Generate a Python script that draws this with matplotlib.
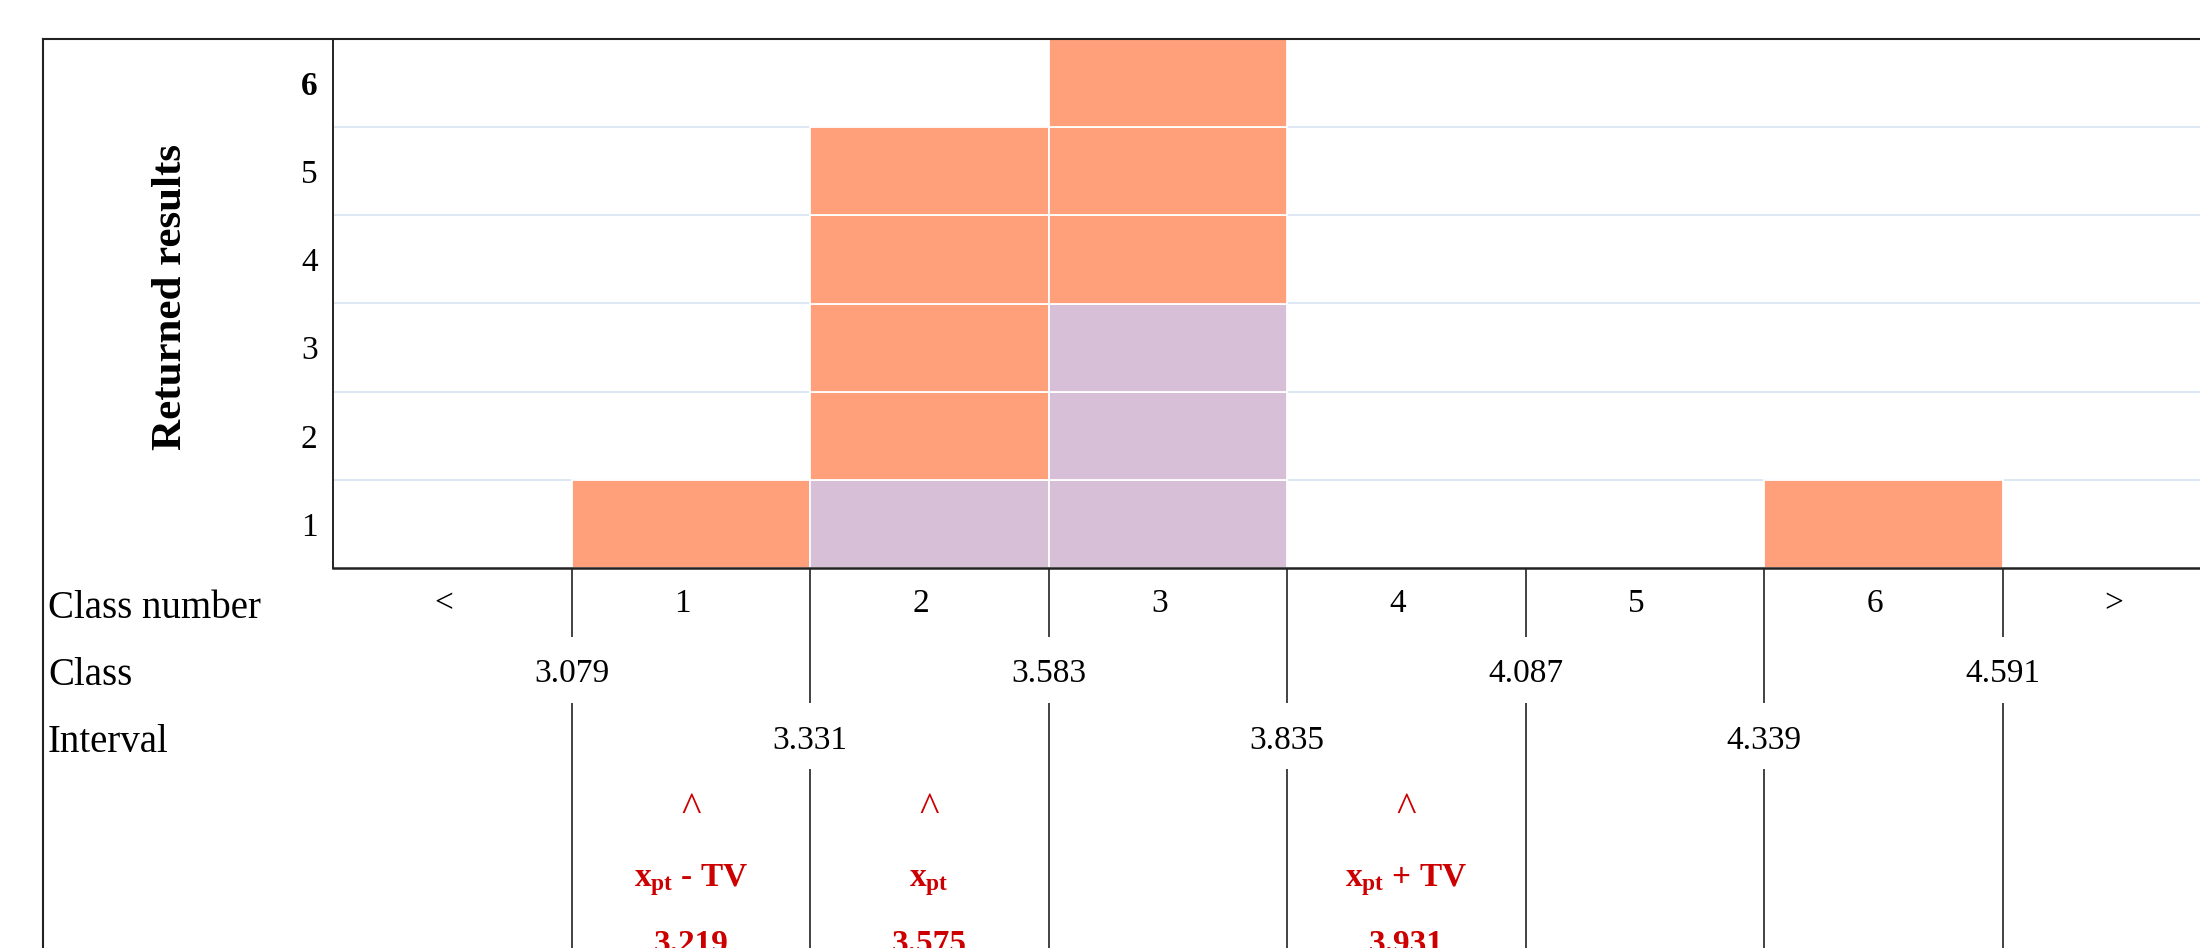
import matplotlib
matplotlib.use("Agg")
import matplotlib.pyplot as plt
from matplotlib import transforms
from matplotlib.lines import Line2D

plt.rcParams["font.family"] = ["Liberation Serif", "DejaVu Serif"]
plt.rcParams["mathtext.fontset"] = "custom"
plt.rcParams["mathtext.rm"] = "Liberation Serif"
plt.rcParams["mathtext.bf"] = "Liberation Serif:bold"
plt.rcParams["mathtext.it"] = "Liberation Serif:italic"

# ── données ──────────────────────────────────────────────────────────────────
CLASS_LABELS = ["<", "1", "2", "3", "4", "5", "6", ">"]
PURPLE_COUNTS = [0, 0, 1, 3, 0, 0, 0, 0]   # cellules du bas (mauve)
ORANGE_COUNTS = [0, 1, 4, 3, 0, 0, 1, 0]   # cellules au-dessus (saumon)
BOUNDARIES = [3.079, 3.331, 3.583, 3.835, 4.087, 4.339, 4.591]
Y_TICKS = [1, 2, 3, 4, 5, 6]
ROW_NAMES = ["Class number", "Class", "Interval"]
MARKER_CLASSES = [1, 2, 4]
MARKER_NAMES = [r"$\mathbf{x_{pt}}$ - TV", r"$\mathbf{x_{pt}}$", r"$\mathbf{x_{pt}}$ + TV"]
MARKER_VALUES = [3.219, 3.575, 3.931]

ORANGE = "#ffa07a"
PURPLE = "#d8bfd8"
GRID = "#dde8f4"
RED = "#cc0000"
LINE = "#222222"

W, H = 2200, 948
fig = plt.figure(figsize=(W / 100, H / 100), dpi=100)

# mise en page en pixels
PLOT_L, PLOT_T, PLOT_B = 333, 39, 568
COL_W = 238.5
ROW_H = 67
n_cols = len(CLASS_LABELS)


def fx(px):
    return px / W


def fy(py):
    return 1 - py / H


# ── histogramme ──────────────────────────────────────────────────────────────
ax = fig.add_axes([fx(PLOT_L), fy(PLOT_B), n_cols * COL_W / W, (PLOT_B - PLOT_T) / H])
ax.set_xlim(-0.5, n_cols - 0.5)
ax.set_ylim(0.5, 6.5)

for y in Y_TICKS[:-1]:
    ax.axhline(y + 0.5, color=GRID, linewidth=1.5, zorder=0.5)

for i, (p, o) in enumerate(zip(PURPLE_COUNTS, ORANGE_COUNTS)):
    for k in range(p):
        ax.bar(i, 1, bottom=k + 0.5, width=1, color=PURPLE,
               edgecolor="white", linewidth=1.3, zorder=1)
    for k in range(p, p + o):
        ax.bar(i, 1, bottom=k + 0.5, width=1, color=ORANGE,
               edgecolor="white", linewidth=1.3, zorder=1)

ax.set_xticks([])
ax.set_yticks(Y_TICKS)
ax.set_yticklabels([str(v) for v in Y_TICKS], fontsize=24)
ax.get_yticklabels()[-1].set_fontweight("bold")
ax.tick_params(axis="y", length=0, pad=11)
ax.set_ylabel("Returned results", fontsize=31, fontweight="bold")
ax.yaxis.set_label_coords((171 - PLOT_L) / (n_cols * COL_W), (PLOT_B - 297) / (PLOT_B - PLOT_T))
ax.yaxis.label.set_verticalalignment("center")
for side in ["left", "bottom", "top"]:
    ax.spines[side].set_color(LINE)
    ax.spines[side].set_linewidth(1.4)
ax.spines["bottom"].set_linewidth(1.8)
ax.spines["right"].set_visible(False)

# ── tableau sous le graphique ────────────────────────────────────────────────
n_rows = 6
tax = fig.add_axes([fx(PLOT_L), fy(PLOT_B + n_rows * ROW_H), n_cols * COL_W / W,
                    n_rows * ROW_H / H])
tax.set_xlim(-0.5, n_cols - 0.5)
tax.set_ylim(n_rows, 0)
tax.axis("off")

row_top = [0, 1.03, 2.02, 3.0]
for k, val in enumerate(BOUNDARIES):
    x = k + 0.5
    r = 1 if k % 2 == 0 else 2
    tax.vlines(x, 0, row_top[r], color=LINE, linewidth=1.2)
    tax.vlines(x, row_top[r + 1], n_rows, color=LINE, linewidth=1.2)
    tax.text(x, r + 0.70, f"{val:.3f}", ha="center", va="baseline", fontsize=24)

for i, lab in enumerate(CLASS_LABELS):
    tax.text(i - 0.035, 0.66, lab, ha="center", va="baseline", fontsize=24)

trans = transforms.blended_transform_factory(fig.transFigure, tax.transData)
for r, name in enumerate(ROW_NAMES):
    tax.text(fx(48), r + 0.75, name, transform=trans, ha="left", va="baseline", fontsize=28)

for c, name, val in zip(MARKER_CLASSES, MARKER_NAMES, MARKER_VALUES):
    tax.text(c, 3.77, "^", ha="center", va="baseline", fontsize=30, color=RED)
    tax.text(c, 4.75, name, ha="center", va="baseline", fontsize=24,
             color=RED, fontweight="bold")
    tax.text(c, 5.75, f"{val:.3f}", ha="center", va="baseline", fontsize=24,
             color=RED, fontweight="bold")

# cadre extérieur
fig.add_artist(Line2D([fx(43), fx(43)], [fy(PLOT_T), 0], color=LINE, linewidth=1.5))
fig.add_artist(Line2D([fx(43), 1], [fy(PLOT_T), fy(PLOT_T)], color=LINE, linewidth=1.5))

fig.savefig("out.png", dpi=100)
